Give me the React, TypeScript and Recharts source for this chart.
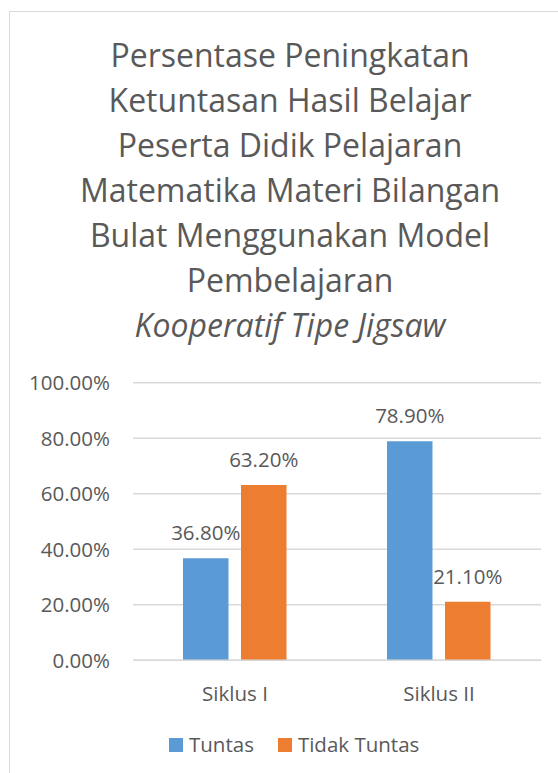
import React from 'react';
import { BarChart, Bar, XAxis, YAxis, CartesianGrid, LabelList } from 'recharts';

const titleLines = [
  'Persentase Peningkatan',
  'Ketuntasan Hasil Belajar',
  'Peserta Didik Pelajaran',
  'Matematika Materi Bilangan',
  'Bulat Menggunakan Model',
  'Pembelajaran',
];
const titleItalicLine = 'Kooperatif Tipe Jigsaw';

const categories = ['Siklus I', 'Siklus II'];
const tuntasValues = [36.8, 78.9];
const tidakTuntasValues = [63.2, 21.1];
const yTicks = [0, 20, 40, 60, 80, 100];

const seriesNames = ['Tuntas', 'Tidak Tuntas'];
const seriesKeys = ['tuntas', 'tidakTuntas'];
const seriesColors = ['#5B9BD5', '#ED7D31'];

const data = categories.map((c, i) => ({
  name: c,
  tuntas: tuntasValues[i],
  tidakTuntas: tidakTuntasValues[i],
}));

const FONT = '"Open Sans", sans-serif';
const TEXT = '#595959';
const fmt = (v: number) => `${Number(v).toFixed(2)}%`;

export default function App() {
  return (
    <div
      style={{
        position: 'fixed',
        left: 0,
        top: 0,
        width: 558,
        height: 773,
        overflow: 'hidden',
        background: '#ffffff',
        fontFamily: FONT,
        color: TEXT,
      }}
    >
      <div
        style={{
          position: 'absolute',
          left: 9,
          top: 11,
          width: 640,
          height: 820,
          borderLeft: '1px solid #D9D9D9',
          borderTop: '1px solid #D9D9D9',
          boxSizing: 'border-box',
        }}
      />
      <div
        style={{
          position: 'absolute',
          left: 9,
          top: 31.8,
          width: 562,
          textAlign: 'center',
          fontSize: 32,
          lineHeight: '45px',
          whiteSpace: 'nowrap',
        }}
      >
        {titleLines.map((l) => (
          <div key={l}>{l}</div>
        ))}
        <div style={{ fontStyle: 'italic' }}>{titleItalicLine}</div>
      </div>

      <div style={{ position: 'absolute', left: 0, top: 0 }}>
        <BarChart
          width={558}
          height={773}
          data={data}
          margin={{ top: 382.8, right: 17, bottom: 72.7, left: 33 }}
          barSize={45.5}
          barGap={12.5}
        >
          <CartesianGrid vertical={false} stroke="#D9D9D9" strokeWidth={1.5} />
          <XAxis
            dataKey="name"
            height={40}
            axisLine={{ stroke: '#D9D9D9', strokeWidth: 1.5 }}
            tickLine={false}
            tickSize={0}
            tickMargin={26}
            tick={{ fill: TEXT, fontSize: 20.5, fontFamily: FONT }}
          />
          <YAxis
            width={100}
            domain={[0, 100]}
            ticks={yTicks}
            axisLine={false}
            tickLine={false}
            tickSize={0}
            tickMargin={23}
            tickFormatter={fmt}
            tick={{ fill: TEXT, fontSize: 20.5, fontFamily: FONT }}
          />
          {seriesKeys.map((k, i) => (
            <Bar key={k} dataKey={k} name={seriesNames[i]} fill={seriesColors[i]} isAnimationActive={false}>
              <LabelList
                dataKey={k}
                position="top"
                offset={18}
                formatter={fmt}
                fill={TEXT}
                fontSize={20.5}
                fontFamily={FONT}
              />
            </Bar>
          ))}
        </BarChart>
      </div>

      <div
        style={{
          position: 'absolute',
          left: 169,
          top: 734.3,
          display: 'flex',
          alignItems: 'flex-start',
          fontSize: 20.5,
          lineHeight: '20px',
          whiteSpace: 'nowrap',
        }}
      >
        {seriesNames.map((n, i) => (
          <div key={n} style={{ display: 'flex', alignItems: 'flex-start', marginRight: 24 }}>
            <div
              style={{
                width: 14,
                height: 14,
                marginTop: 3.7,
                marginRight: 6,
                background: seriesColors[i],
              }}
            />
            <div>{n}</div>
          </div>
        ))}
      </div>
    </div>
  );
}
